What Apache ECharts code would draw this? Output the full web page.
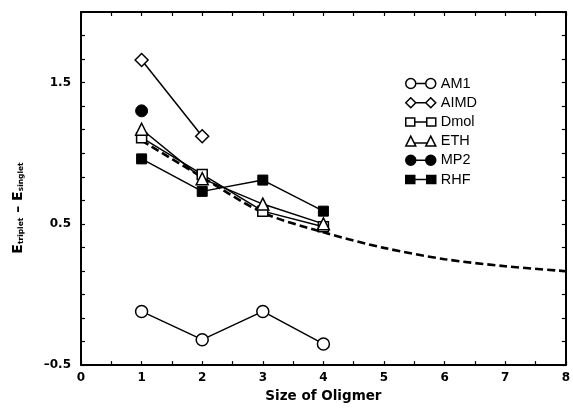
<!DOCTYPE html>
<html>
<head>
<meta charset="utf-8">
<script src="https://cdn.jsdelivr.net/npm/echarts@6/dist/echarts.min.js"></script>
<style>
  html, body { margin: 0; padding: 0; background: #fff; }
  #chart { width: 573px; height: 408px; }
</style>
</head>
<body>
<div id="chart"></div>
<script>
// ---- data ----
const oligomerSizes = [1, 2, 3, 4];
const am1Values  = [-0.12, -0.32, -0.12, -0.35];
const aimdValues = [1.66, 1.12];
const dmolValues = [1.11, 0.85, 0.59, 0.48];
const ethValues  = [1.17, 0.82, 0.64, 0.50];
const mp2Values  = [1.30];
const rhfValues  = [0.96, 0.73, 0.81, 0.59];
const fitSizes   = [1, 2, 3, 4, 5, 6, 7, 8];
const fitValues  = [1.09, 0.83, 0.58, 0.44, 0.33, 0.25, 0.20, 0.165];
const xTickLabels = ['0', '1', '2', '3', '4', '5', '6', '7', '8'];
const yTickLabels = ['-0.5', '0.5', '1.5'];
const legendNames = ['AM1', 'AIMD', 'Dmol', 'ETH', 'MP2', 'RHF'];

function pairs(xs, ys) { return ys.map((y, i) => [xs[i], y]); }

const TICK_FONT = 'DejaVu Sans';
const hollow = { color: '#fff', borderColor: '#000', borderWidth: 1.5 };
const filled = { color: '#000', borderColor: '#000', borderWidth: 1 };

const legendIcons = {
  AM1:  'path://M0,5A5,5,0,1,0,10,5A5,5,0,1,0,0,5Z M10,5L20,5 M20,5A5,5,0,1,0,30,5A5,5,0,1,0,20,5Z',
  AIMD: 'path://M0,5L5,0L10,5L5,10Z M10,5L20,5 M20,5L25,0L30,5L25,10Z',
  Dmol: 'path://M0,1L9,1L9,9L0,9Z M9,5L21,5 M21,1L30,1L30,9L21,9Z',
  ETH:  'path://M0,10L5,0L10,10Z M8.5,7L21.5,7 M20,10L25,0L30,10Z',
  MP2:  'path://M0,5A5,5,0,1,0,10,5A5,5,0,1,0,0,5Z M10,5L20,5 M20,5A5,5,0,1,0,30,5A5,5,0,1,0,20,5Z',
  RHF:  'path://M0,1L9,1L9,9L0,9Z M9,5L21,5 M21,1L30,1L30,9L21,9Z'
};
const legendFilled = { AM1: false, AIMD: false, Dmol: false, ETH: false, MP2: true, RHF: true };

function yLabel(v) {
  const k = Math.round((v + 0.5) * 6);
  if (k % 6 !== 0) return '';
  const s = yTickLabels.find(t => Math.abs(parseFloat(t) - v) < 1e-6);
  return s ? s.replace('-', '\u2013') : '';
}
function xLabel(v) {
  const s = xTickLabels.find(t => Math.abs(parseFloat(t) - v) < 1e-6);
  return s || '';
}

const axisLine = { show: true, onZero: false, lineStyle: { color: '#000', width: 2 } };
const tick = { show: true, inside: true, length: 4, lineStyle: { color: '#000', width: 1.2 } };
const minor = { show: true, splitNumber: 2, length: 4, lineStyle: { color: '#000', width: 1.2 } };

const chart = echarts.init(document.getElementById('chart'), null, { renderer: 'canvas' });
chart.setOption({
  animation: false,
  backgroundColor: '#fff',
  grid: { left: 81, right: 6, top: 12, bottom: 40, containLabel: false },
  xAxis: [{
    type: 'value', min: 0, max: 8, interval: 1, position: 'bottom',
    name: 'Size of Oligmer', nameLocation: 'middle', nameGap: 23,
    nameTextStyle: { fontFamily: TICK_FONT, fontWeight: 'bold', fontSize: 13.5, color: '#000' },
    axisLine: axisLine, axisTick: tick, minorTick: minor,
    axisLabel: { formatter: xLabel, fontFamily: TICK_FONT, fontWeight: 'bold', fontSize: 12, color: '#000', margin: 7 },
    splitLine: { show: false }
  }, {
    type: 'value', min: 0, max: 8, interval: 1, position: 'top',
    axisLine: axisLine, axisTick: tick, minorTick: minor,
    axisLabel: { show: false }, splitLine: { show: false }
  }],
  yAxis: [{
    type: 'value', min: -0.5, max: 2.0, interval: 1 / 6, position: 'left',
    axisLine: axisLine, axisTick: tick,
    axisLabel: { formatter: yLabel, fontFamily: TICK_FONT, fontWeight: 'bold', fontSize: 12, color: '#000', margin: 10, showMaxLabel: false },
    splitLine: { show: false }
  }, {
    type: 'value', min: -0.5, max: 2.0, interval: 1 / 6, position: 'right',
    axisLine: axisLine, axisTick: tick,
    axisLabel: { show: false }, splitLine: { show: false }
  }],
  legend: {
    orient: 'vertical', left: 405, top: 76, padding: 0,
    itemWidth: 30, itemHeight: 10, itemGap: 4.2,
    selectedMode: false,
    textStyle: { fontFamily: 'Liberation Sans', fontSize: 14.5, color: '#000' },
    data: legendNames.map(n => ({
      name: n, icon: legendIcons[n],
      itemStyle: legendFilled[n] ? { color: '#000', borderColor: '#000', borderWidth: 1.5 } : { color: '#fff', borderColor: '#000', borderWidth: 1.5 }
    }))
  },
  graphic: [{
    type: 'text', x: 18, y: 208, rotation: Math.PI / 2,
    style: {
      text: '{e|E}{s|triplet}{e| \u2013 E}{s|singlet}',
      align: 'center', verticalAlign: 'middle', fill: '#000',
      rich: {
        e: { fontFamily: TICK_FONT, fontWeight: 'bold', fontSize: 14, fill: '#000', verticalAlign: 'bottom' },
        s: { fontFamily: TICK_FONT, fontWeight: 'bold', fontSize: 7.5, fill: '#000', verticalAlign: 'bottom' }
      }
    }
  }],
  series: [
    {
      name: 'fit', type: 'line', data: pairs(fitSizes, fitValues), smooth: 0.3,
      showSymbol: false, symbol: 'none', z: 1,
      lineStyle: { color: '#000', width: 2.6, type: [8, 4] }
    },
    {
      name: 'AM1', type: 'line', data: pairs(oligomerSizes, am1Values), z: 3,
      symbol: 'circle', symbolSize: 12, itemStyle: hollow, lineStyle: { color: '#000', width: 1.5 }
    },
    {
      name: 'AIMD', type: 'line', data: pairs(oligomerSizes, aimdValues), z: 3,
      symbol: 'diamond', symbolSize: 13, itemStyle: hollow, lineStyle: { color: '#000', width: 1.5 }
    },
    {
      name: 'Dmol', type: 'line', data: pairs(oligomerSizes, dmolValues), z: 3,
      symbol: 'rect', symbolSize: 10, itemStyle: hollow, lineStyle: { color: '#000', width: 1.5 }
    },
    {
      name: 'ETH', type: 'line', data: pairs(oligomerSizes, ethValues), z: 3,
      symbol: 'triangle', symbolSize: 12, itemStyle: hollow, lineStyle: { color: '#000', width: 1.5 }
    },
    {
      name: 'MP2', type: 'line', data: pairs(oligomerSizes, mp2Values), z: 3,
      symbol: 'circle', symbolSize: 12, itemStyle: filled, lineStyle: { color: '#000', width: 1.5 }
    },
    {
      name: 'RHF', type: 'line', data: pairs(oligomerSizes, rhfValues), z: 3,
      symbol: 'rect', symbolSize: 10, itemStyle: filled, lineStyle: { color: '#000', width: 1.5 }
    }
  ]
});
</script>
</body>
</html>
